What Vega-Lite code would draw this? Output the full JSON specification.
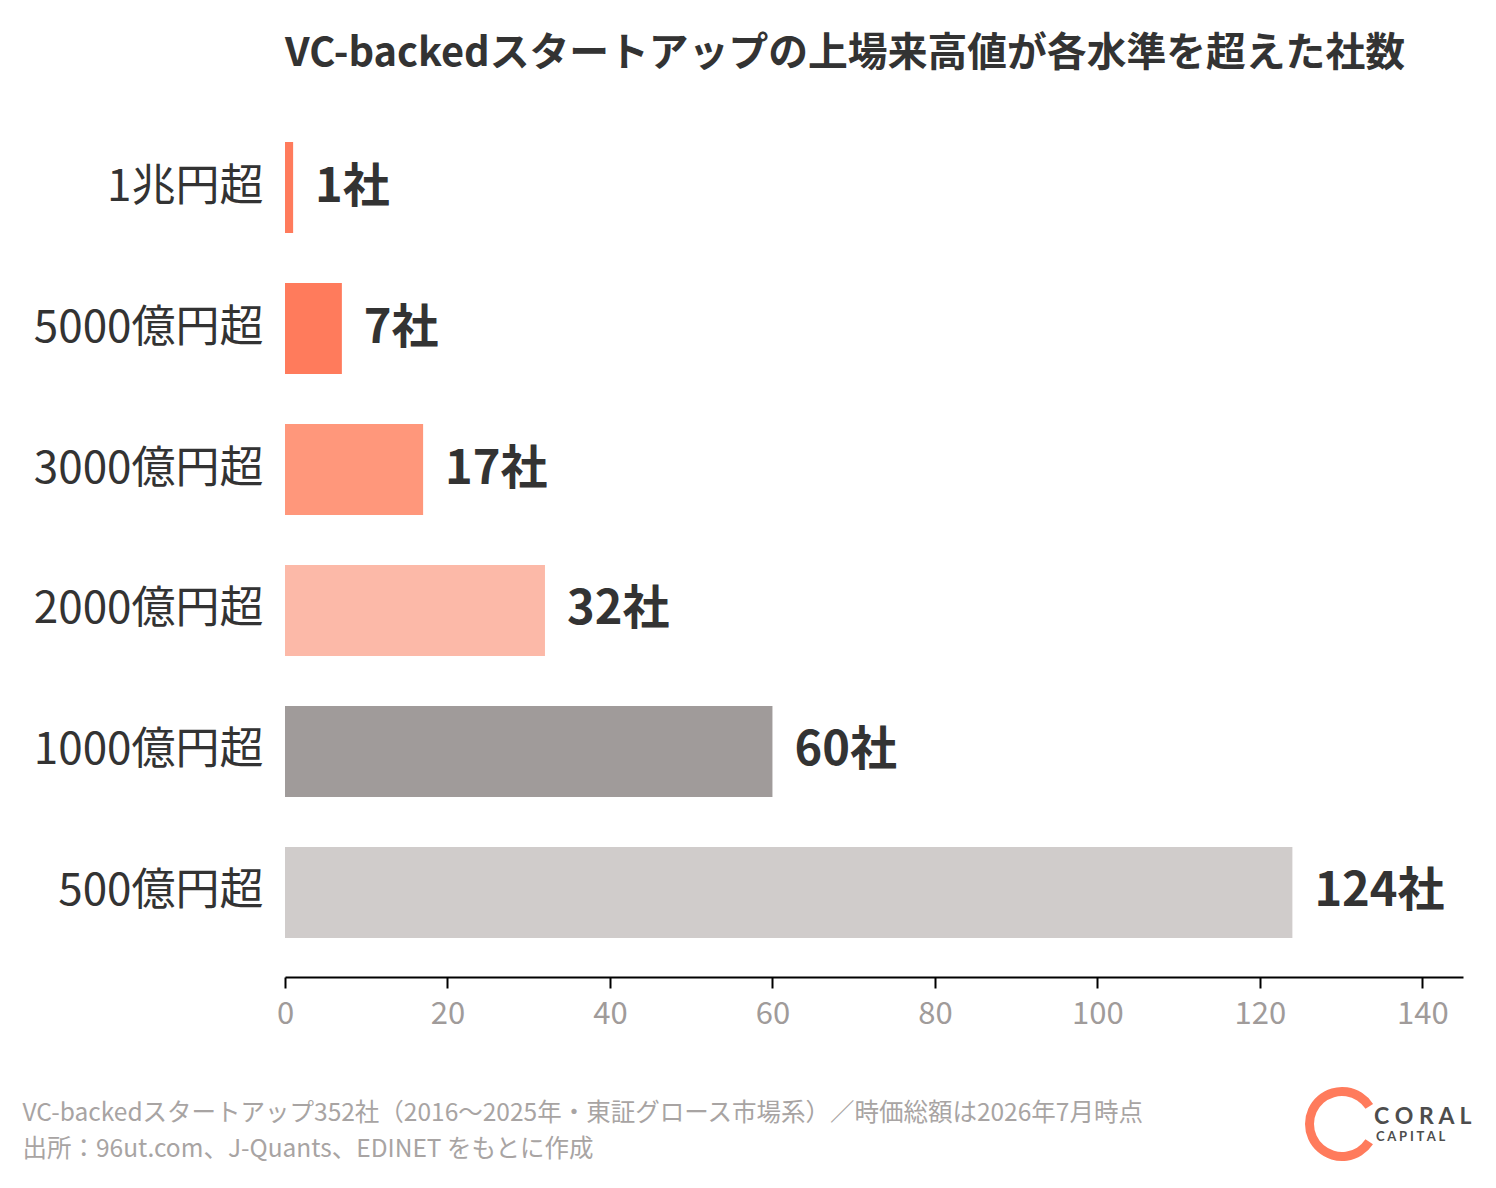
{
  "$schema": "https://vega.github.io/schema/vega-lite/v6.json",
  "autosize": "none",
  "width": 1178,
  "height": 874,
  "padding": {"left": 285, "top": 103, "right": 33, "bottom": 211},
  "background": "white",
  "view": {"stroke": null},
  "config": {"font": "Noto Sans CJK JP"},
  "title": {
    "text": "VC-backedスタートアップの上場来高値が各水準を超えた社数",
    "fontSize": 39.8,
    "fontWeight": "bold",
    "color": "#333333",
    "anchor": "start",
    "frame": "group",
    "offset": 28
  },
  "data": {
    "values": [
      {"level": "1兆円超", "count": 1, "label": "1社"},
      {"level": "5000億円超", "count": 7, "label": "7社"},
      {"level": "3000億円超", "count": 17, "label": "17社"},
      {"level": "2000億円超", "count": 32, "label": "32社"},
      {"level": "1000億円超", "count": 60, "label": "60社"},
      {"level": "500億円超", "count": 124, "label": "124社"}
    ]
  },
  "encoding": {
    "y": {
      "field": "level",
      "type": "nominal",
      "sort": null,
      "scale": {"paddingInner": 0.355, "paddingOuter": 0.277},
      "axis": {
        "title": null,
        "domain": false,
        "ticks": false,
        "labelFontSize": 44,
        "labelColor": "#333333",
        "labelPadding": 22,
        "labelLimit": 0
      }
    },
    "x": {
      "field": "count",
      "type": "quantitative",
      "scale": {"domain": [0, 145], "nice": false},
      "axis": {
        "values": [0, 20, 40, 60, 80, 100, 120, 140],
        "grid": false,
        "domainColor": "#000000",
        "domainWidth": 2,
        "tickColor": "#000000",
        "tickWidth": 2,
        "tickSize": 11,
        "labelFontSize": 31,
        "labelColor": "#A09B9A",
        "labelPadding": 11,
        "labelFlush": false,
        "title": ["VC-backedスタートアップ352社（2016〜2025年・東証グロース市場系）／時価総額は2026年7月時点", "出所：96ut.com、J-Quants、EDINET をもとに作成"],
        "titleFontSize": 24.5,
        "titleFontWeight": "normal",
        "titleColor": "#A8A4A3",
        "titleAlign": "left",
        "titleBaseline": "top",
        "titleLineHeight": 36,
        "titleX": -263,
        "titleY": 124
      }
    }
  },
  "layer": [
    {
      "mark": {"type": "bar"},
      "encoding": {
        "color": {
          "field": "level",
          "type": "nominal",
          "scale": {
            "domain": ["1兆円超", "5000億円超", "3000億円超", "2000億円超", "1000億円超", "500億円超"],
            "range": ["#FF7B5C", "#FF7B5C", "#FF977B", "#FCB9A8", "#A09B9A", "#D0CCCB"]
          },
          "legend": null
        }
      }
    },
    {
      "mark": {"type": "text", "align": "left", "baseline": "middle", "dx": 22, "fontSize": 47, "fontWeight": "bold", "color": "#333333"},
      "encoding": {"text": {"field": "label"}}
    },
    {
      "data": {"values": [{"brand": "CORAL"}]},
      "mark": {"type": "arc", "color": "#FF7B5C", "radius": 37, "radius2": 28, "theta": 2.15, "theta2": 7.28},
      "encoding": {"x": {"value": 1057}, "y": {"value": 1021}}
    },
    {
      "data": {"values": [{"brand": "C O R A L"}]},
      "mark": {"type": "text", "align": "left", "baseline": "middle", "fontSize": 23, "fontWeight": "bold", "color": "#4D4D4D", "font": "Lato"},
      "encoding": {"x": {"value": 1089}, "y": {"value": 1014}, "text": {"field": "brand"}}
    },
    {
      "data": {"values": [{"brand": "C A P I T A L"}]},
      "mark": {"type": "text", "align": "left", "baseline": "middle", "fontSize": 13, "fontWeight": "bold", "color": "#4D4D4D", "font": "Lato"},
      "encoding": {"x": {"value": 1091}, "y": {"value": 1034}, "text": {"field": "brand"}}
    }
  ]
}
